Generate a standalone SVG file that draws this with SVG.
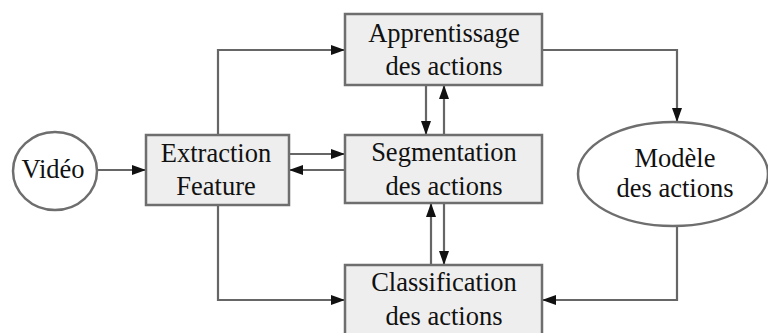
<svg xmlns="http://www.w3.org/2000/svg" width="768" height="333" viewBox="0 0 768 333">
  <style>
    .box { fill: #eeeeee; stroke: #6e6e6e; stroke-width: 2.5; }
    .oval { fill: #ffffff; stroke: #6e6e6e; stroke-width: 2.5; }
    .lbl { font-family: "Liberation Serif", "Times New Roman", serif; font-size: 26.5px; fill: #111; text-anchor: middle; }
    .wire { fill: none; stroke: #666; stroke-width: 2.2; marker-end: url(#head); }
  </style>
  <defs>
    <marker id="head" viewBox="0 0 14 10" refX="14" refY="5" markerWidth="14" markerHeight="10" markerUnits="userSpaceOnUse" orient="auto">
      <path d="M0,0 L14,5 L0,10 Z" fill="#111"/>
    </marker>
  </defs>
  <rect width="768" height="333" fill="#ffffff"/>

  <g id="connectors">
    <path class="wire" d="M98,170 H146"/>
    <path class="wire" d="M218,135 V50 H345"/>
    <path class="wire" d="M218,205 V300 H345"/>
    <path class="wire" d="M289,154 H345"/>
    <path class="wire" d="M345,170 H289"/>
    <path class="wire" d="M542,50 H677 V122"/>
    <path class="wire" d="M426,85 V135"/>
    <path class="wire" d="M444,135 V85"/>
    <path class="wire" d="M431,265 V203"/>
    <path class="wire" d="M444,203 V265"/>
    <path class="wire" d="M677,227 V300 H542"/>
  </g>

  <g id="video">
    <ellipse class="oval" cx="55" cy="171" rx="42" ry="39"/>
    <text class="lbl" x="53" y="178">Vidéo</text>
  </g>

  <g id="extraction">
    <rect class="box" x="146" y="135" width="143" height="70"/>
    <text class="lbl" x="216" y="162">Extraction</text>
    <text class="lbl" x="216" y="195">Feature</text>
  </g>

  <g id="apprentissage">
    <rect class="box" x="345" y="14" width="197" height="71"/>
    <text class="lbl" x="444" y="42">Apprentissage</text>
    <text class="lbl" x="444" y="75">des actions</text>
  </g>

  <g id="segmentation">
    <rect class="box" x="345" y="135" width="197" height="68"/>
    <text class="lbl" x="444" y="161">Segmentation</text>
    <text class="lbl" x="444" y="195">des actions</text>
  </g>

  <g id="classification">
    <rect class="box" x="345" y="265" width="197" height="80"/>
    <text class="lbl" x="444" y="291">Classification</text>
    <text class="lbl" x="444" y="325">des actions</text>
  </g>

  <g id="modele">
    <ellipse class="oval" cx="673" cy="174" rx="95" ry="52"/>
    <text class="lbl" x="675" y="167">Modèle</text>
    <text class="lbl" x="675" y="197">des actions</text>
  </g>
</svg>
